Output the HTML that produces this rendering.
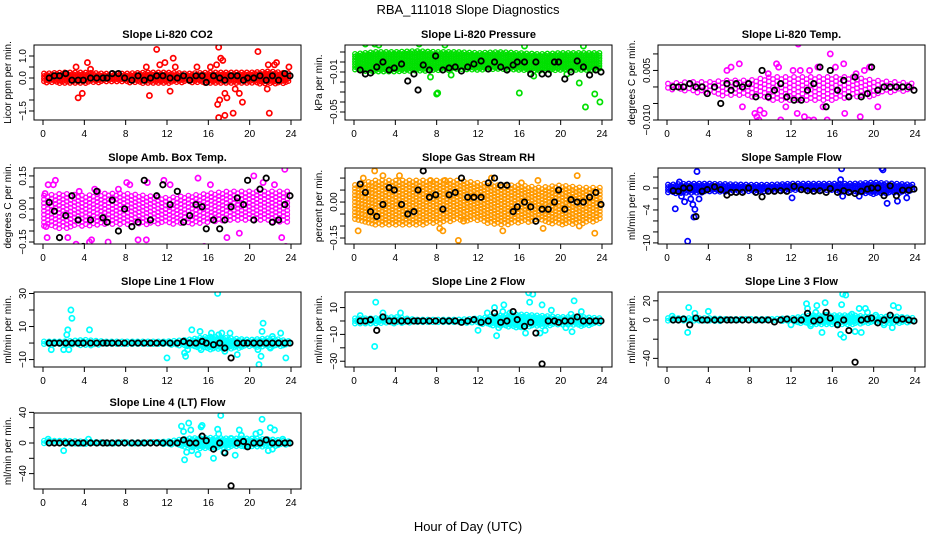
<!DOCTYPE html>
<html><head><meta charset="utf-8"><title>RBA_111018 Slope Diagnostics</title>
<style>body{margin:0;background:#fff}svg{display:block;font-family:"Liberation Sans",Arial,sans-serif}</style>
</head><body>
<svg id="chart" width="936" height="540" viewBox="0 0 936 540" xmlns="http://www.w3.org/2000/svg">
<rect x="0" y="0" width="936" height="540" fill="#fff"/>
<text x="468" y="14" text-anchor="middle" font-size="13">RBA_111018  Slope Diagnostics</text>
<text x="468" y="531" text-anchor="middle" font-size="13">Hour of Day (UTC)</text>
<g id="plots"></g>
</svg>
<script>
// ---- shared data ----
const xTicks = [0,4,8,12,16,20,24];
const bandHours = [0,2,4,6,8,10,12,14,16,18,20,22,24];
const blackHours = [0.6,1.1,1.6,2.2,2.8,3.4,3.9,4.6,5.2,5.8,6.2,6.7,7.3,7.9,8.6,9.2,9.8,10.4,11,11.6,12.3,13,13.6,14.2,14.8,15.4,15.8,16.5,17.1,17.6,18.2,18.8,19.4,19.8,20.4,21,21.6,22.2,22.8,23.4,23.9];

// CO2
const co2Black = [0,0.1,0.1,0.2,-0.1,-0.1,-0.1,0,0,0,0,0.2,0.2,0,-0.1,0.1,-0.1,0,0.1,0.1,0,0,0.1,-0.1,0.1,0.1,-0.2,0.1,0,-0.1,0.1,0.1,-0.1,0,0,0.1,-0.1,0.1,-0.1,0.2,0.1];
const co2BandLo = [-0.2,-0.25,-0.25,-0.2,-0.2,-0.25,-0.25,-0.2,-0.25,-0.25,-0.25,-0.3,-0.2];
const co2BandHi = [0.2,0.25,0.25,0.2,0.2,0.25,0.25,0.2,0.25,0.25,0.25,0.3,0.2];
const co2OutH = [3.2,3.4,3.8,4.3,4.6,10,10.3,11,11.3,11.8,12.3,12.6,12.8,14.9,16.2,16.8,16.9,17,17,17.1,17.2,17.4,17.6,17.6,17.8,18.4,18.6,19,19.3,20.8,21.7,21.9,22.4,22.6,23.8,21.8];
const co2OutV = [0.5,-0.9,-0.7,0.7,0.4,0.5,-0.8,1.3,0.6,0.7,-0.6,0.9,0.5,0.5,0.5,0.6,-1.2,1.4,-1.8,-1.0,0.9,0.8,-1.7,-0.7,-0.9,-1.6,-0.5,-0.7,-1.1,1.2,-0.5,-1.6,0.6,0.7,0.5,0.6];

// Pressure
const presBlack = [-0.008,-0.012,-0.011,-0.005,0.000,-0.008,-0.006,-0.002,-0.019,-0.012,-0.028,-0.003,-0.008,0.006,-0.008,-0.006,-0.005,-0.009,-0.005,-0.002,0.001,-0.007,0.000,-0.005,-0.008,-0.003,0.000,0.000,-0.012,0.000,-0.012,-0.012,0.000,0.000,-0.017,-0.010,0.001,-0.005,-0.013,-0.008,-0.010];
const presBandLo = [-0.008,-0.01,-0.01,-0.009,-0.009,-0.008,-0.008,-0.008,-0.009,-0.009,-0.008,-0.008,-0.008];
const presBandHi = [0.008,0.01,0.01,0.011,0.01,0.01,0.009,0.01,0.009,0.008,0.009,0.009,0.009];
const presOutH = [0.8,1.1,2,2.4,6.3,8,8.1,8.8,16,16.5,21.8,22.2,22.4,23.3,23.8,7.4,9.4,17.4,20.6,0.4];
const presOutV = [-0.064,0.018,0.018,0.017,0.018,-0.032,-0.031,0.017,-0.031,0.016,-0.021,0.016,-0.045,-0.032,-0.040,-0.015,-0.013,-0.014,-0.012,-0.006];

// Li-820 Temp
const tempBlack = [0,0,0,0.001,0,0,-0.002,0,-0.005,0.001,-0.001,0.001,0,0.001,-0.003,0.005,-0.003,-0.001,0.001,-0.003,-0.004,-0.004,-0.001,0.001,0.006,-0.006,0.005,-0.001,0.002,-0.003,0.003,-0.003,-0.002,0.006,-0.001,0,0,0,0,0,-0.001];
const tempBandLo = [-0.001,-0.0015,-0.002,-0.003,-0.003,-0.004,-0.004,-0.004,-0.004,-0.003,-0.003,-0.0015,-0.001];
const tempBandHi = [0.001,0.0015,0.0015,0.002,0.002,0.003,0.003,0.003,0.003,0.003,0.002,0.0015,0.001];
const tempOutH = [8.5,8.7,8.9,9.4,10.6,11,12.7,12.6,13.3,13.7,14.2,15.5,15.8,17.2,17.1,18.7,19.6,7,6.2,5.8,10.8,12.2,13.8,20.4,16.3,9,7.3,14.6,11.5,12.9,9.8,15.1,18.3,19.1];
const tempOutV = [-0.008,-0.009,-0.010,-0.008,0.007,-0.010,0.013,-0.008,-0.009,-0.010,-0.010,-0.010,0.010,-0.008,0.007,-0.009,0.006,0.007,0.006,0.005,0.006,0.005,0.005,-0.006,0.006,-0.007,-0.006,0.006,-0.006,0.005,0.004,-0.006,0.004,0.005];

// Amb Box Temp
const ambBlack = [0.03,-0.01,-0.13,-0.03,0.06,-0.05,-0.17,-0.05,0.08,-0.04,-0.06,0.04,-0.1,0,-0.08,-0.06,0.13,-0.05,0.06,0.11,0.02,0.08,-0.06,-0.03,0.02,0.01,-0.09,-0.05,-0.09,-0.05,0.01,0.05,0.02,0.13,-0.05,0.09,0.14,-0.06,-0.05,0.02,0.06];
const ambBandLo = [-0.08,-0.09,-0.08,-0.07,-0.07,-0.07,-0.07,-0.07,-0.06,-0.05,-0.05,-0.06,-0.06];
const ambBandHi = [0.06,0.07,0.06,0.07,0.07,0.06,0.05,0.06,0.07,0.08,0.08,0.08,0.08];
const ambOutH = [0.2,0.3,0.4,0.5,1,1.2,2,2.4,3.2,3.5,4.5,4.7,5,5.3,6.3,7,7.3,8.1,8.4,9.2,10,10.1,11.7,12.5,12.3,15,15.6,16.2,17.2,17.8,19,20.4,21.3,22.4,23.4,23.5,23.1];
const ambOutV = [0.07,-0.08,-0.13,0.11,0.11,0.13,-0.18,-0.13,-0.16,0.08,-0.15,-0.14,0.09,0.08,-0.15,-0.21,0.09,0.12,0.11,-0.14,-0.14,0.12,0.13,-0.21,0.11,0.14,-0.17,0.11,-0.2,-0.13,-0.11,0.15,0.12,0.11,0.18,-0.17,-0.13];

// Gas Stream RH
const rhBlack = [0.075,0.04,-0.04,-0.06,-0.01,0.06,0.05,-0.01,-0.05,-0.04,0.05,0.13,0.02,0.03,-0.03,0.03,0.04,0.1,0.02,0.02,0.02,0.08,0.1,0.07,0.07,-0.04,-0.02,0.0,-0.02,-0.08,-0.03,-0.03,0.0,0.05,-0.03,0.01,0.0,0.0,0.02,0.04,-0.01];
const rhBandLo = [-0.08,-0.1,-0.1,-0.1,-0.09,-0.08,-0.08,-0.1,-0.09,-0.08,-0.1,-0.09,-0.08];
const rhBandHi = [0.07,0.09,0.09,0.09,0.09,0.09,0.08,0.07,0.07,0.06,0.07,0.06,0.06];
const rhOutH = [0.4,0.9,2,2.8,4.4,7.4,8.8,10.6,10.1,8.3,8.6,14.4,18.3,17.8,21.6,21.8,23.3,16.2,13.3];
const rhOutV = [-0.12,0.1,0.13,0.11,0.11,0.09,0.09,-0.08,-0.16,-0.11,-0.12,-0.12,-0.11,0.09,0.11,-0.1,-0.13,0.08,0.1];

// Sample Flow
const sfBlack = [-0.5,-0.6,0,0,-5.2,-0.6,-0.3,0.2,-0.3,-1.3,-0.8,-0.8,-0.8,0,-0.8,-1.6,-0.6,-0.6,-0.5,-0.6,0.3,-0.3,-0.5,-0.6,-0.5,-0.8,-0.1,-0.8,-0.5,-0.8,-1,-0.6,-0.2,0,0,-1.4,0.4,-1.4,-0.4,-0.4,-0.2];
const sfBandLo = [-1,-1,-0.8,-0.7,-0.6,-0.6,-0.5,-0.5,-0.6,-0.8,-1.2,-1,-0.7];
const sfBandHi = [0.6,0.8,0.8,0.7,0.6,0.6,0.8,0.8,0.8,0.8,1,0.8,0.6];
const sfOutH = [0.8,1.4,1.7,2,2.3,2.5,2.6,2.7,2.9,3.1,12.1,16.8,16.9,17,18.6,20.8,20.9,21.3,22.3,23.2,1.2];
const sfOutV = [-3.8,-1.5,-2.5,-9.7,-2,-3,-5.3,-3.9,3,-2,-1.8,1.5,3.5,-1.5,-1.5,3.6,3.3,-2.8,-2.4,-1.8,1.1];

// Line 1 Flow
const l1Black = [0,0,0,0,0,0,0,0,0,0,0,0,0,0,0,0,0,0,0,0,0,0,1,0,0,1,0,-1,0,-3,-9,0,0,0,0,0,0,0,0,0,0];
const l1BandLo = [-1,-1,-2,-1,-1,-1,-1,-2,-4,-4,-2,-3,-1];
const l1BandHi = [1,1,2,1,1,1,1,2,4,3,2,3,1];
const l1OutH = [0.8,2,2.3,2.4,2.5,2.7,2.8,4.5,12,13.7,13.8,14,14.4,15.2,15.3,16.3,16.9,17,17.3,17.6,18.1,18.8,20.9,21.1,21.2,21.3,22.2,23,23.5,20.8,22];
const l1OutV = [-4,-4,5,8,-4,20,15,8,-9,-6,-8,-4,8,7,-4,6,30,5,6,-5,6,-7,-13,-8,7,12,4,6,-9,-4,-3];

// Line 2 Flow
const l2Black = [0,0,1,-7,3,0,0,0,0,0,0,0,0,0,0,0,0,-1,0,1,-1,0,6,-1,0,7,1,-4,-1,-9,-32,0,0,-1,0,0,3,0,0,0,0];
const l2BandLo = [-2,-2,-2,-1,-1,-1,-2,-4,-5,-4,-3,-4,-2];
const l2BandHi = [2,2,3,1,1,1,2,4,5,4,3,3,2];
const l2OutH = [0.6,2,2.1,2.8,4.5,12,13.6,13.8,14,14.5,14.4,15.1,16,16.6,16.9,17,17.3,18,18.2,18.5,19.1,20.5,21,21.1,21.3,22,12.9];
const l2OutV = [4,-19,14,6,6,-7,10,-11,-5,12,7,6,-4,-9,21,14,20,-9,12,-7,8,-5,5,-8,15,7,6];

// Line 3 Flow
const l3Black = [0,0,1,-5,2,0,0,0,0,0,0,0,0,0,0,0,0,-2,0,1,0,0,7,-1,0,8,2,-5,0,-11,-44,0,1,2,-3,0,5,0,1,0,-1];
const l3BandLo = [-2,-2,-2,-1,-1,-1,-2,-5,-5,-5,-3,-4,-2];
const l3BandHi = [2,2,2,1,1,1,2,5,5,5,3,4,2];
const l3OutH = [0.5,2,2.1,2.7,4,12,13.5,13.6,13.9,14.5,14.4,15.3,15.4,15,16.8,17.1,16.9,17,17.3,17.9,18.2,18.6,18.8,19.2,19.4,21,21.9,22.4,21.8,20.2];
const l3OutV = [4,-13,13,7,9,-5,17,12,-6,15,8,18,5,-13,-15,-18,16,27,26,6,-12,12,-13,12,8,-5,15,13,-8,5];

// Line 4 (LT) Flow
const l4Black = [0,0,0,0,0,0,0,0,0,0,0,0,0,0,0,0,0,0,0,0,0,0,4,0,0,9,3,-8,0,-13,-56,0,2,-5,0,0,4,0,0,0,0];
const l4BandLo = [-2,-2,-2,-1,-1,-1,-2,-6,-8,-6,-5,-5,-2];
const l4BandHi = [3,3,2,1,1,1,2,6,7,6,6,5,2];
const l4OutH = [2,0.5,4.4,13.4,13.6,13.7,13.9,14.1,14.3,14.4,15,15.3,15.4,16.5,16.9,17.2,17,17.5,18.2,18.6,19,19.2,19.5,20.6,21,21.2,21.8,22,22.4,22.2,23.2];
const l4OutV = [-10,5,5,22,15,-22,-12,26,17,-10,-15,21,23,-20,18,36,12,-12,6,-16,17,10,-4,12,14,31,-10,20,17,-8,5];

// y tick values and printed labels
const co2Ticks = [-1.5,-1,-0.5,0,0.5,1], co2Labels = ["-1.5","","","0.0","","1.0"];
const presTicks = [-0.05,-0.04,-0.03,-0.02,-0.01,0,0.01], presLabels = ["-0.05","","","","-0.01","",""];
const tempTicks = [-0.01,-0.005,0,0.005,0.01], tempLabels = ["-0.010","","","0.005",""];
const ambTicks = [-0.15,-0.1,-0.05,0,0.05,0.1,0.15], ambLabels = ["-0.15","","","0.00","","","0.15"];
const rhTicks = [-0.15,-0.1,-0.05,0,0.05,0.1], rhLabels = ["-0.15","","","0.00","",""];
const sfTicks = [-10,-8,-6,-4,-2,0,2], sfLabels = ["-10","","","-4","","0",""];
const l1Ticks = [-10,0,10,20,30], l1Labels = ["-10","","10","","30"];
const l2Ticks = [-30,-20,-10,0,10], l2Labels = ["-30","","-10","","10"];
const l3Ticks = [-40,-20,0,20], l3Labels = ["-40","","0","20"];
const l4Ticks = [-40,-20,0,20,40], l4Labels = ["-40","","0","","40"];

// ---- layout (not data) ----
const colLeft = [34,345,658], boxW = 267;
const rowTop = [45,168,292,413], boxH = [75,76,75,76];
const panels = [
 {name:"co2",title:"Slope Li-820 CO2",yl:"Licor ppm per min.",c:0,r:0,dom:[-1.91,1.5],col:"#ff0000",blk:co2Black,lo:co2BandLo,hi:co2BandHi,oh:co2OutH,ov:co2OutV,tk:co2Ticks,lb:co2Labels,sp:2.6},
 {name:"pressure",title:"Slope Li-820 Pressure",yl:"kPa per min.",c:1,r:0,dom:[-0.058,0.017],col:"#00e000",blk:presBlack,lo:presBandLo,hi:presBandHi,oh:presOutH,ov:presOutV,tk:presTicks,lb:presLabels,sp:2.6},
 {name:"li820-temp",title:"Slope Li-820 Temp.",yl:"degrees C per min.",c:2,r:0,dom:[-0.0100,0.0127],col:"#ff00ff",blk:tempBlack,lo:tempBandLo,hi:tempBandHi,oh:tempOutH,ov:tempOutV,tk:tempTicks,lb:tempLabels,sp:4.2},
 {name:"amb-box-temp",title:"Slope Amb. Box Temp.",yl:"degrees C per min.",c:0,r:1,dom:[-0.159,0.186],col:"#ff00ff",blk:ambBlack,lo:ambBandLo,hi:ambBandHi,oh:ambOutH,ov:ambOutV,tk:ambTicks,lb:ambLabels,sp:3.8},
 {name:"gas-stream-rh",title:"Slope Gas Stream RH",yl:"percent per min.",c:1,r:1,dom:[-0.175,0.142],col:"#ff9a00",blk:rhBlack,lo:rhBandLo,hi:rhBandHi,oh:rhOutH,ov:rhOutV,tk:rhTicks,lb:rhLabels,sp:3.4},
 {name:"sample-flow",title:"Slope Sample Flow",yl:"ml/min per min.",c:2,r:1,dom:[-10.2,3.64],col:"#0000ff",blk:sfBlack,lo:sfBandLo,hi:sfBandHi,oh:sfOutH,ov:sfOutV,tk:sfTicks,lb:sfLabels,sp:2.6},
 {name:"line1-flow",title:"Slope Line 1 Flow",yl:"ml/min per min.",c:0,r:2,dom:[-14.5,30.9],col:"#00ffff",blk:l1Black,lo:l1BandLo,hi:l1BandHi,oh:l1OutH,ov:l1OutV,tk:l1Ticks,lb:l1Labels,sp:2.6},
 {name:"line2-flow",title:"Slope Line 2 Flow",yl:"ml/min per min.",c:1,r:2,dom:[-34.3,21.6],col:"#00ffff",blk:l2Black,lo:l2BandLo,hi:l2BandHi,oh:l2OutH,ov:l2OutV,tk:l2Ticks,lb:l2Labels,sp:2.6},
 {name:"line3-flow",title:"Slope Line 3 Flow",yl:"ml/min per min.",c:2,r:2,dom:[-49,29.2],col:"#00ffff",blk:l3Black,lo:l3BandLo,hi:l3BandHi,oh:l3OutH,ov:l3OutV,tk:l3Ticks,lb:l3Labels,sp:2.6},
 {name:"line4-flow",title:"Slope Line 4 (LT) Flow",yl:"ml/min per min.",c:0,r:3,dom:[-60.1,39.2],col:"#00ffff",blk:l4Black,lo:l4BandLo,hi:l4BandHi,oh:l4OutH,ov:l4OutV,tk:l4Ticks,lb:l4Labels,sp:2.6}
];
const NS = "http://www.w3.org/2000/svg";
const root = document.getElementById("plots");
function mk(tag, attrs, parent){const e=document.createElementNS(NS,tag);for(const k in attrs)e.setAttribute(k,attrs[k]);parent.appendChild(e);return e;}
function interp(h, arr){let i=Math.min(Math.floor(h/2),11);const t=(h-bandHours[i])/2;return arr[i]+(arr[i+1]-arr[i])*t;}

panels.forEach(p=>{
  const L=colLeft[p.c], T=rowTop[p.r], H=boxH[p.r], B=T+H;
  const xs = h => L+9 + h*(248/24);
  const ys = v => B - (v-p.dom[0])/(p.dom[1]-p.dom[0])*H;
  const g = mk("g",{},root);
  
  
  const t = mk("text",{x:L+boxW/2,y:T-7,"text-anchor":"middle","font-size":"11","font-weight":"bold"},g);
  t.textContent = p.title;
  
  
  const yl = mk("text",{x:0,y:0,"text-anchor":"middle","font-size":"10",transform:`translate(${L-23},${T+H/2}) rotate(-90)`},g);
  yl.textContent = p.yl;
  
  
  const cid = "clip-"+p.name;
  const cp = mk("clipPath",{id:cid},g);
  mk("rect",{x:L,y:T,width:boxW,height:H},cp);
  const pts = mk("g",{"clip-path":`url(#${cid})`,fill:"none"},g);
  
  
  const band = mk("g",{stroke:p.col,"stroke-width":"1.3"},pts);
  
  
  let ci=0;
  for(let px=xs(0.1); px<=xs(23.9); px+=p.sp, ci++){
    const h=(px-L-9)/(248/24);
    const yTop=ys(interp(h,p.hi)), yBot=ys(interp(h,p.lo));
    for(let py=yTop+(ci%2)*p.sp/2; py<=yBot; py+=p.sp){
      mk("circle",{cx:px.toFixed(1),cy:py.toFixed(1),r:"2.3"},band);
    }
  }
  p.oh.forEach((h,i)=>{
    const c = mk("circle",{cx:xs(h),cy:ys(p.ov[i]),r:"2.6",stroke:p.col,"stroke-width":"1.7"},pts);
    
    
  });
  p.blk.forEach((v,i)=>{
    const c = mk("circle",{cx:xs(blackHours[i]),cy:ys(v),r:"2.7",stroke:"#000","stroke-width":"1.8"},pts);
    
    
  });
  const bx = mk("rect",{x:L,y:T,width:boxW,height:H,fill:"none",stroke:"#000","stroke-width":"1"},g);
  
  
  const xa = mk("g",{"font-size":"10","text-anchor":"middle"},g);
  
  
  xTicks.forEach(v=>{
    mk("line",{x1:xs(v),x2:xs(v),y1:B,y2:B+5,stroke:"#000"},xa);
    const tl = mk("text",{x:xs(v),y:B+17},xa);
    tl.textContent = v;
    
    
  });
  const ya = mk("g",{"font-size":"10","text-anchor":"middle"},g);
  
  
  p.tk.forEach((v,i)=>{
    const y=ys(v);
    mk("line",{x1:L-5,x2:L,y1:y,y2:y,stroke:"#000"},ya);
    if(p.lb[i]){
      const tl = mk("text",{x:0,y:0,transform:`translate(${L-8},${y}) rotate(-90)`},ya);
      tl.textContent = p.lb[i].replace("-","\u2212");
      
      
    }
  });
});
</script>
</body></html>
